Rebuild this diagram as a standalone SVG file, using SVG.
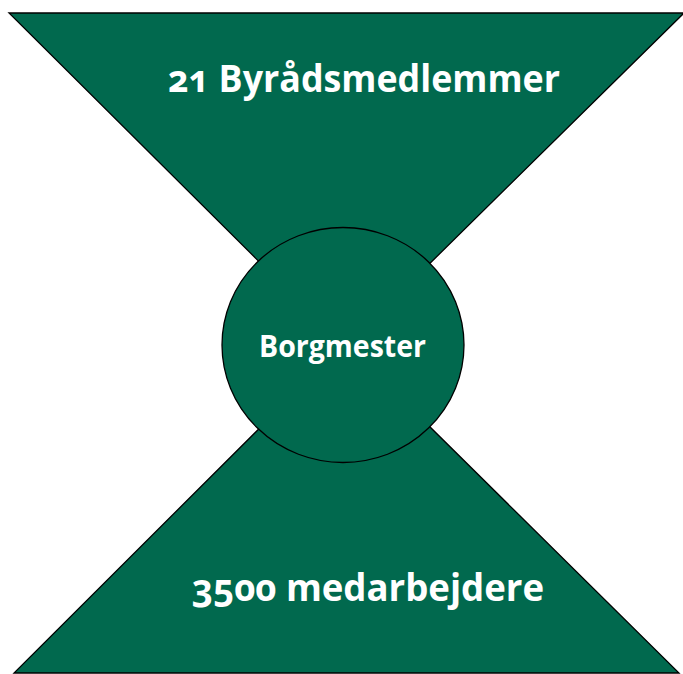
<svg xmlns="http://www.w3.org/2000/svg" width="683" height="674" viewBox="0 0 683 674">
<style>
.shape{fill:#01694e;stroke:#000;stroke-width:1.3}
.lbl{fill:#fff;font-family:"Open Sans","Noto Sans",sans-serif;font-weight:700;text-anchor:middle;font-variant-numeric:oldstyle-nums}
</style>
<rect width="683" height="674" fill="#fff"/>
<g id="top">
<polygon class="shape" points="9,13 684,13 345,347"/>
<text class="lbl" x="364" y="92" font-size="37" textLength="392" lengthAdjust="spacingAndGlyphs">21 Byrådsmedlemmer</text>
</g>
<g id="bottom">
<polygon class="shape" points="14,673 679,673 345,343"/>
<text class="lbl" x="368" y="601" font-size="37" textLength="352" lengthAdjust="spacingAndGlyphs">3500 medarbejdere</text>
</g>
<g id="connectors"></g>
<g id="borgmester">
<ellipse class="shape" cx="343" cy="345" rx="121" ry="117.5"/>
<text class="lbl" x="342.5" y="357" font-size="31" textLength="167" lengthAdjust="spacingAndGlyphs">Borgmester</text>
</g>
</svg>
